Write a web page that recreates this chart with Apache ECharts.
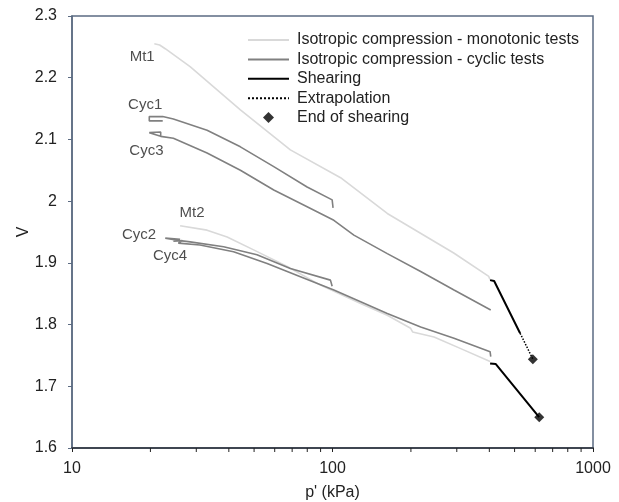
<!DOCTYPE html>
<html>
<head>
<meta charset="utf-8">
<script src="https://cdn.jsdelivr.net/npm/echarts@6/dist/echarts.min.js"></script>
<style>
  html, body {margin: 0; padding: 0; background: #fff;}
  #chart {width: 619px; height: 502px;}
</style>
</head>
<body>
<div id="chart"></div>
<script>
// legend names
const nameMono = 'Isotropic compression - monotonic tests'
const nameCyc = 'Isotropic compression - cyclic tests'
const nameShear = 'Shearing'
const nameExtra = 'Extrapolation'
const nameEnd = 'End of shearing'

// [p' (kPa), V]
const mt1 = [[20.7, 2.255], [21.7, 2.253], [22.8, 2.247], [28.4, 2.218], [44.3, 2.148], [68.9, 2.083],
  [107.4, 2.038], [162.3, 1.980], [292, 1.916], [398, 1.878], [402, 1.873]]
const mt2 = [[26.0, 1.960], [33.0, 1.953], [39.4, 1.942], [49.8, 1.921], [67.0, 1.894], [89.9, 1.864],
  [128.2, 1.834], [162.3, 1.815], [199.5, 1.794], [203, 1.788], [245.3, 1.780], [310.7, 1.761], [402.7, 1.740]]
const cyc1 = [[22.3, 2.130], [19.8, 2.130], [19.8, 2.137], [22.3, 2.137], [24.5, 2.133], [33.0, 2.115],
  [44.3, 2.088], [59.5, 2.056], [79.9, 2.023], [99.7, 2.002], [100.5, 1.989]]
const cyc3 = [[21.9, 2.106], [21.9, 2.112], [19.8, 2.111], [21.9, 2.105], [24.5, 2.102], [33.0, 2.078],
  [44.3, 2.050], [59.5, 2.018], [79.9, 1.991], [101.2, 1.969], [120.8, 1.945], [162.3, 1.915],
  [218, 1.886], [292.7, 1.856], [405, 1.8235]]
const cyc2 = [[26.0, 1.938], [22.8, 1.940], [22.8, 1.939], [26.0, 1.936], [28.4, 1.934], [38.2, 1.926],
  [51.3, 1.913], [68.9, 1.891], [98.2, 1.872], [99.7, 1.862]]
const cyc4 = [[24.5, 1.935], [26.5, 1.936], [26.5, 1.933], [25.6, 1.932], [31.0, 1.929], [41.7, 1.918],
  [56.1, 1.899], [75.3, 1.8775], [101.2, 1.856], [128.2, 1.837], [162.3, 1.818], [218, 1.796],
  [292.7, 1.778], [402.7, 1.756], [405, 1.748]]
const shear1 = [[402.7, 1.872], [417.4, 1.8705], [525, 1.786]]
const extrap1 = [[525, 1.786], [587.6, 1.744]]
const shear2 = [[402.7, 1.737], [423.6, 1.736], [621, 1.650]]
const endPoints = [[587.6, 1.744], [621.7, 1.650]]

// curve labels
const curveLabels = [
  {name: 'Mt1', value: [18.6, 2.233]},
  {name: 'Cyc1', value: [19.1, 2.156]},
  {name: 'Cyc3', value: [19.3, 2.081]},
  {name: 'Mt2', value: [28.9, 1.981]},
  {name: 'Cyc2', value: [18.1, 1.945]},
  {name: 'Cyc4', value: [23.8, 1.911]}
]

// minor ticks on the log axis
const minorTicks = [20, 30, 40, 50, 60, 70, 80, 90, 200, 300, 400, 500, 600, 700, 800, 900]

const font = 'Liberation Sans, Arial, sans-serif'
const monoColor = '#d9d9d9'
const cycColor = '#808080'

const lineSeries = (name, data, color, width, type) => ({
  name: name,
  type: 'line',
  data: data,
  symbol: 'none',
  lineStyle: {color: color, width: width, type: type || 'solid'},
  itemStyle: {color: color},
  z: 3
})

// legend line without the dot
const lineItem = name => ({name: name, itemStyle: {opacity: 0}})

let myChart = echarts.init(document.getElementById('chart'))
let option = {
  animation: false,
  textStyle: {fontFamily: font},
  grid: {
    left: 72, right: 26, top: 16, bottom: 54,
    outerBoundsMode: 'none',
    show: true, borderColor: '#5b6b82', borderWidth: 1.5
  },
  legend: {
    data: [
      lineItem(nameMono),
      lineItem(nameCyc),
      lineItem(nameShear),
      lineItem(nameExtra),
      {name: nameEnd, icon: 'path://M5,0 L10,5 L5,10 L0,5 Z'}
    ],
    orient: 'vertical',
    left: 242,
    top: 27,
    itemWidth: 41,
    itemHeight: 11,
    itemGap: 3.4,
    symbolKeepAspect: true,
    selectedMode: false,
    textStyle: {fontSize: 16, color: '#222', fontFamily: font, padding: [0, 0, 0, 3]}
  },
  xAxis: {
    type: 'log',
    logBase: 10,
    min: 10,
    max: 1000,
    name: "p' (kPa)",
    nameLocation: 'middle',
    nameGap: 37,
    nameMoveOverlap: false,
    nameTextStyle: {fontSize: 16, color: '#222', fontFamily: font},
    axisLine: {show: true, lineStyle: {color: '#3f4651', width: 2}},
    axisTick: {show: true, length: 4, lineStyle: {color: '#222'}},
    axisLabel: {
      fontSize: 16, color: '#222', margin: 13, fontFamily: font,
      formatter: v => String(v)
    },
    splitLine: {show: false}
  },
  yAxis: {
    type: 'value',
    min: 1.6,
    max: 2.3,
    interval: 0.1,
    name: 'V',
    nameLocation: 'middle',
    nameGap: 40,
    nameMoveOverlap: false,
    nameTextStyle: {fontSize: 16, color: '#222', fontFamily: font},
    axisLine: {show: true, lineStyle: {color: '#5b6b82', width: 1.5}},
    axisTick: {show: true, length: 4, lineStyle: {color: '#5b6b82'}},
    axisLabel: {fontSize: 16, color: '#222', margin: 15, fontFamily: font},
    splitLine: {show: false}
  },
  series: [
    lineSeries(nameMono, mt1, monoColor, 1.6),
    lineSeries(nameMono, mt2, monoColor, 1.6),
    lineSeries(nameCyc, cyc1, cycColor, 1.6),
    lineSeries(nameCyc, cyc3, cycColor, 1.6),
    lineSeries(nameCyc, cyc2, cycColor, 1.6),
    lineSeries(nameCyc, cyc4, cycColor, 1.6),
    lineSeries(nameShear, shear1, '#000', 2),
    lineSeries(nameShear, shear2, '#000', 2),
    lineSeries(nameExtra, extrap1, '#000', 1.5, 'dotted'),
    {
      name: nameEnd,
      type: 'scatter',
      data: endPoints,
      symbol: 'diamond',
      symbolSize: 10,
      itemStyle: {color: '#000'},
      z: 4
    },
    {
      name: 'labels',
      type: 'scatter',
      data: curveLabels,
      symbolSize: 0,
      silent: true,
      label: {
        show: true,
        position: 'inside',
        formatter: '{b}',
        fontSize: 15,
        color: '#222',
        fontFamily: font
      }
    },
    {
      name: 'minor ticks',
      type: 'custom',
      silent: true,
      data: minorTicks.map(v => [v, 1.6]),
      renderItem: function (params, api) {
        let pt = api.coord([api.value(0), api.value(1)])
        return {
          type: 'line',
          shape: {x1: pt[0], y1: pt[1], x2: pt[0], y2: pt[1] + 4},
          style: {stroke: '#222', lineWidth: 1}
        }
      }
    }
  ]
}
myChart.setOption(option)
</script>
</body>
</html>
